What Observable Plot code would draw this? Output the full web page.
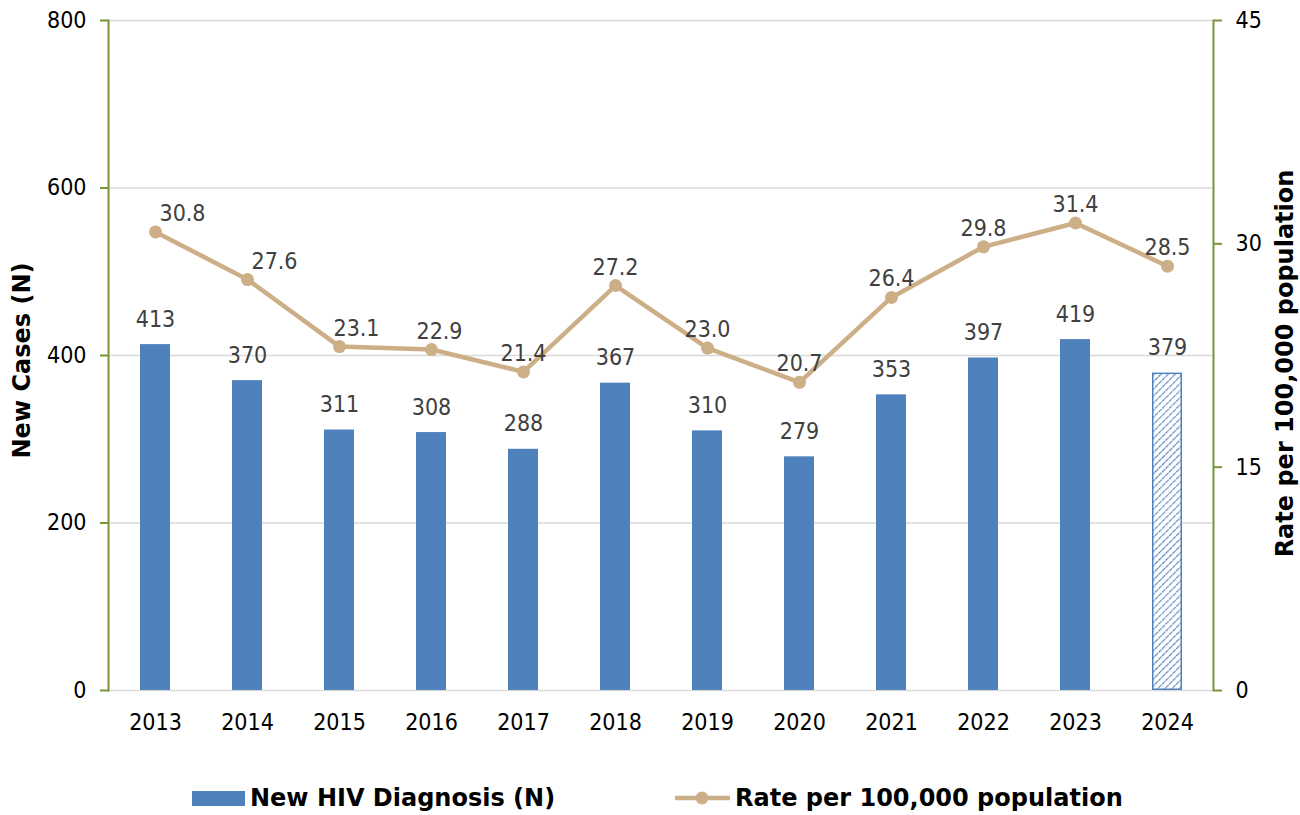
<!DOCTYPE html>
<html><head><meta charset="utf-8">
<script src="https://cdn.jsdelivr.net/npm/d3@7"></script>
<script src="https://cdn.jsdelivr.net/npm/@observablehq/plot@0.6"></script>
<style>
body{margin:0;background:#fff;}
#wrap{position:relative;width:1300px;height:815px;overflow:hidden;}
.leg{position:absolute;top:782px;height:32px;display:flex;align-items:center;font-family:"DejaVu Sans",sans-serif;font-weight:bold;font-size:24px;color:#000;white-space:nowrap;}
.sw{width:53px;height:15px;background:#4F81BD;margin-right:5px;}
</style></head><body><div id="wrap"></div>
<script>
const years = ["2013","2014","2015","2016","2017","2018","2019","2020","2021","2022","2023","2024"];
const cases = [413,370,311,308,288,367,310,279,353,397,419,379];
const rates = [30.8,27.6,23.1,22.9,21.4,27.2,23.0,20.7,26.4,29.8,31.4,28.5];
const leftTicks = [0,200,400,600,800];
const rightTicks = [0,15,30,45];
const provisionalYear = "2024";
const seriesNames = ["New HIV Diagnosis (N)", "Rate per 100,000 population"];
const axisTitles = ["New Cases (N)", "Rate per 100,000 population"];

const leftMax = 800, rightMax = 45;
const toLeft = r => r * leftMax / rightMax;
const rows = years.map((y, i) => ({year: y, cases: cases[i], rate: rates[i], rateY: toLeft(rates[i]), i}));

const blue = "#4F81BD", tan = "#CDAF87", green = "#77933C", grid = "#D9D9D9", lab = "#404040";
const numFont = "DejaVu Sans Condensed, DejaVu Sans, sans-serif";

const defs = () => {
  const d = d3.create("svg:defs");
  const p = d.append("pattern").attr("id", "hatch").attr("patternUnits", "userSpaceOnUse")
    .attr("width", 5).attr("height", 5).attr("patternTransform", "rotate(45)");
  p.append("rect").attr("width", 5).attr("height", 5).attr("fill", "#fff");
  p.append("line").attr("x1", 0).attr("y1", 0).attr("x2", 0).attr("y2", 5)
    .attr("stroke", blue).attr("stroke-width", 2.4).attr("stroke-dasharray", "2 0.8");
  return d.node();
};

const labelShift = i => (i < 2 ? 27 : i === 2 ? 17 : i === 3 ? 8 : 0);

const chart = Plot.plot({
  width: 1300,
  height: 760,
  marginLeft: 108,
  marginRight: 87,
  marginTop: 20,
  marginBottom: 70,
  style: {fontFamily: numFont, fontSize: "23px", color: "#000", background: "#fff"},
  x: {domain: years, paddingInner: 0.674, paddingOuter: 0.337, label: null, axis: null},
  y: {domain: [0, leftMax], label: null, axis: null},
  marks: [
    defs,
    Plot.ruleY(leftTicks, {stroke: grid, strokeWidth: 1.5}),
    Plot.barY(rows.filter(d => d.year !== provisionalYear), {x: "year", y: "cases", fill: blue}),
    Plot.barY(rows.filter(d => d.year === provisionalYear), {x: "year", y: "cases", fill: "url(#hatch)", stroke: blue, strokeWidth: 1.5, inset: 0.75}),
    Plot.text(rows, {x: "year", y: "cases", text: d => String(d.cases), lineAnchor: "bottom", dy: -18, fill: lab, fontSize: 23}),
    Plot.line(rows, {x: "year", y: "rateY", stroke: tan, strokeWidth: 4.5}),
    Plot.dot(rows, {x: "year", y: "rateY", r: 6.5, fill: tan}),
    ...[0,1,2,3].map(k => Plot.text(rows.filter(d => d.i === k), {x: "year", y: "rateY", text: d => d.rate.toFixed(1), lineAnchor: "bottom", dy: -11, dx: labelShift(k), fill: lab, fontSize: 23})),
    Plot.text(rows.filter(d => d.i > 3), {x: "year", y: "rateY", text: d => d.rate.toFixed(1), lineAnchor: "bottom", dy: -11, fill: lab, fontSize: 23}),
    Plot.frame({anchor: "left", stroke: green, strokeWidth: 2}),
    Plot.frame({anchor: "right", stroke: green, strokeWidth: 2}),
    Plot.axisY(leftTicks, {anchor: "left", tickSize: 8, tickPadding: 14, stroke: green, fill: "#000", fontSize: 23, strokeWidth: 2, label: null}),
    Plot.axisY(rightTicks.map(toLeft), {anchor: "right", tickSize: 8, tickPadding: 14, stroke: green, fill: "#000", fontSize: 23, strokeWidth: 2, label: null, tickFormat: d => String(Math.round(d * rightMax / leftMax))}),
    Plot.axisX({tickSize: 0, tickPadding: 23, fontSize: 23, fill: "#000", label: null}),
    Plot.text([axisTitles[0]], {frameAnchor: "left", dx: -86, dy: 5, rotate: -90, textAnchor: "middle", text: d => d, fontFamily: "DejaVu Sans", fontWeight: "bold", fontSize: 24, fill: "#000"}),
    Plot.text([axisTitles[1]], {frameAnchor: "right", dx: 72, dy: 8, rotate: -90, textAnchor: "middle", text: d => d, fontFamily: "DejaVu Sans", fontWeight: "bold", fontSize: 24, fill: "#000"})
  ]
});

const wrap = document.getElementById("wrap");
wrap.appendChild(chart);

const l1 = document.createElement("div");
l1.className = "leg"; l1.style.left = "192px";
l1.innerHTML = `<div class="sw"></div><span>${seriesNames[0]}</span>`;
wrap.appendChild(l1);

const l2 = document.createElement("div");
l2.className = "leg"; l2.style.left = "675px";
l2.innerHTML = `<svg width="58" height="20" style="margin-right:2px"><line x1="0" y1="10" x2="55" y2="10" stroke="${tan}" stroke-width="4.5"/><circle cx="27" cy="10" r="6.5" fill="${tan}"/></svg><span>${seriesNames[1]}</span>`;
wrap.appendChild(l2);
</script></body></html>
